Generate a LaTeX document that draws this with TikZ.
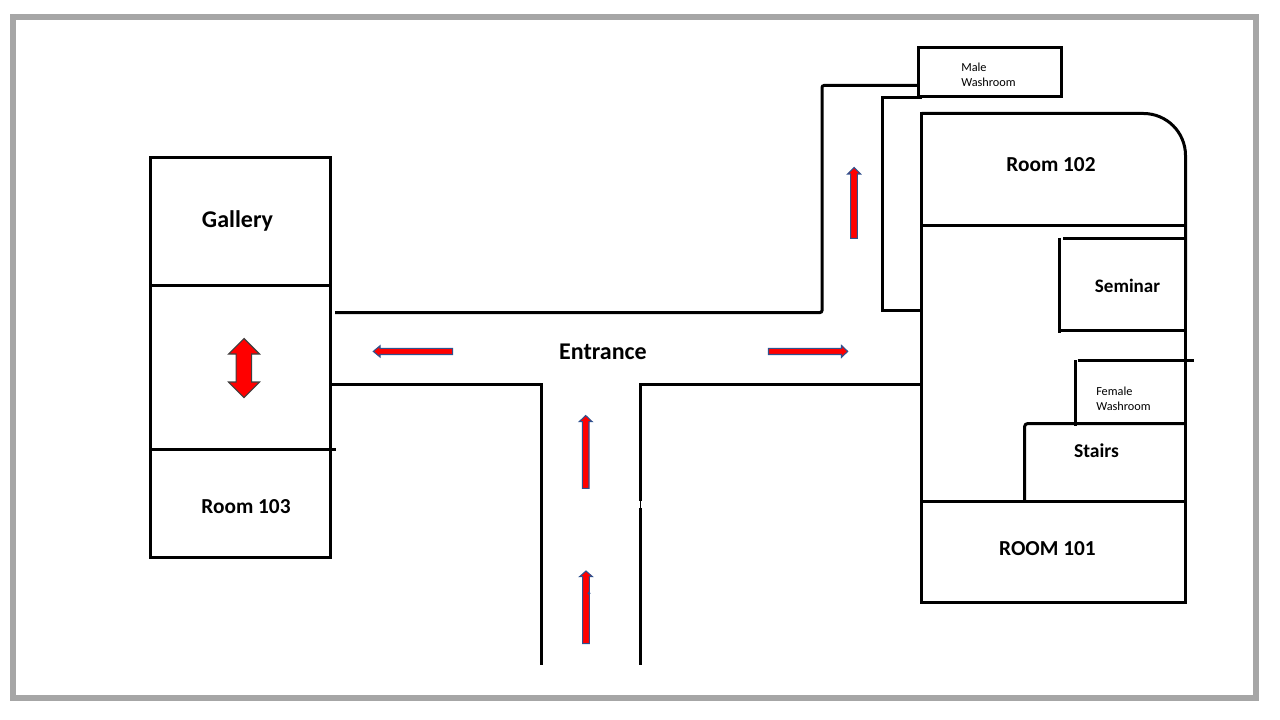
\documentclass[tikz,border=0pt]{standalone}
\usepackage{fontspec}
\setmainfont{Carlito}
\usetikzlibrary{positioning}

\definecolor{framegray}{HTML}{A6A6A6}
\definecolor{arrowblue}{HTML}{2F528F}

\tikzset{
	wall/.style={black, line width=2.25pt},
	flowarrow/.style={fill=red, draw=arrowblue, line width=0.8pt},
	roomlabel/.style={font=\bfseries\fontsize{#1}{18}\selectfont, inner sep=0pt},
	smalllabel/.style={font=\fontsize{9.2}{11.2}\selectfont, align=left, inner sep=0pt, anchor=west}
}

\begin{document}
\begin{tikzpicture}[x=0.75pt,y=-0.75pt]
\useasboundingbox (0,0) rectangle (1280,720);

%outer frame
\draw[framegray, line width=4.5pt] (13,17) rectangle (1256,698);

%left block
\draw[wall] (150.5,157.5) rectangle (330.5,557);
\draw[wall] (150.5,285.5) -- (330.5,285.5);
\draw[wall] (150.5,449.5) -- (336,449.5);

%corridor
\draw[wall, rounded corners=1.5pt] (335,312.5) -- (822,312.5) -- (822,85.5) -- (919,85.5);
\draw[wall] (331,384.5) -- (541.5,384.5) -- (541.5,665);
\draw[wall] (921,384.5) -- (640.5,384.5) -- (640.5,501);
\draw[wall] (640.5,508) -- (640.5,665);
\draw[black, very thin] (640.5,501) -- (640.5,508);
\draw[wall] (922,97.5) -- (882,97.5) -- (882,310.5) -- (921,310.5);

%male washroom
\draw[wall] (918.5,47.5) rectangle (1061.5,96.5);

%right block
\draw[wall, rounded corners=31.5pt] (921.5,113.5) -- (1185.5,113.5) -- (1185.5,300);
\draw[wall] (921.5,112.4) -- (921.5,602.5) -- (1185.5,602.5) -- (1185.5,200);
\draw[wall] (921.5,225.5) -- (1185.5,225.5);

%seminar
\draw[wall] (1063,238.5) -- (1185.5,238.5);
\draw[wall] (1059.5,238) -- (1059.5,333);
\draw[wall] (1059.5,330.5) -- (1185.5,330.5);

%female washroom and stairs
\draw[wall] (1077.5,360.5) -- (1194,360.5);
\draw[wall] (1075,360) -- (1075,426);
\draw[wall, rounded corners=2.5pt] (1185.5,423.5) -- (1024.5,423.5) -- (1024.5,501.5);
\draw[wall] (921.5,501.5) -- (1185.5,501.5);

%up arrows
\foreach \cx/\tip/\neck/\tail in {585.7/415.5/421.7/488.3, 586/571/576.7/643.7, 854/167.5/174/238.3}
{
	\draw[flowarrow] (\cx-3.3,\tail) -- (\cx-3.3,\neck) -- (\cx-6.5,\neck) -- (\cx,\tip)
		-- (\cx+6.5,\neck) -- (\cx+3.3,\neck) -- (\cx+3.3,\tail) -- cycle;
}
\fill[arrowblue] (589,593.3) circle (1.6);

%left and right arrows
\draw[flowarrow] (452.7,348.3) -- (380,348.3) -- (380,345.8) -- (373.3,351.4)
	-- (380,357) -- (380,354.5) -- (452.7,354.5) -- cycle;
\draw[flowarrow] (768.5,348.3) -- (841.5,348.3) -- (841.5,345.5) -- (847.7,351.4)
	-- (841.5,357.3) -- (841.5,354.5) -- (768.5,354.5) -- cycle;

%double arrow
\draw[fill=red, draw=darkgray, line width=0.8pt] (244,338.5) -- (259.5,354) -- (251.7,354) -- (251.7,382)
	-- (259.5,382) -- (244,397.7) -- (228.5,382) -- (236.2,382) -- (236.2,354) -- (228.5,354) -- cycle;

%labels
\node[roomlabel=18] (gallery) at (237.5,220.5) {Gallery};
\node[roomlabel=16] (room103) at (246,507) {Room 103};
\node[roomlabel=18] (entrance) at (603,352) {Entrance};
\node[roomlabel=16] (room102) at (1051,165) {Room 102};
\node[roomlabel=14.3] (seminar) at (1127.5,286) {Seminar};
\node[roomlabel=14.7] (stairs) at (1096.5,450.5) {Stairs};
\node[roomlabel=16] (room101) at (1047.5,548.5) {ROOM 101};
\node[smalllabel] (malewash) at (961,75) {Male\\Washroom};
\node[smalllabel] (femalewash) at (1096,399) {Female\\Washroom};

\end{tikzpicture}
\end{document}
